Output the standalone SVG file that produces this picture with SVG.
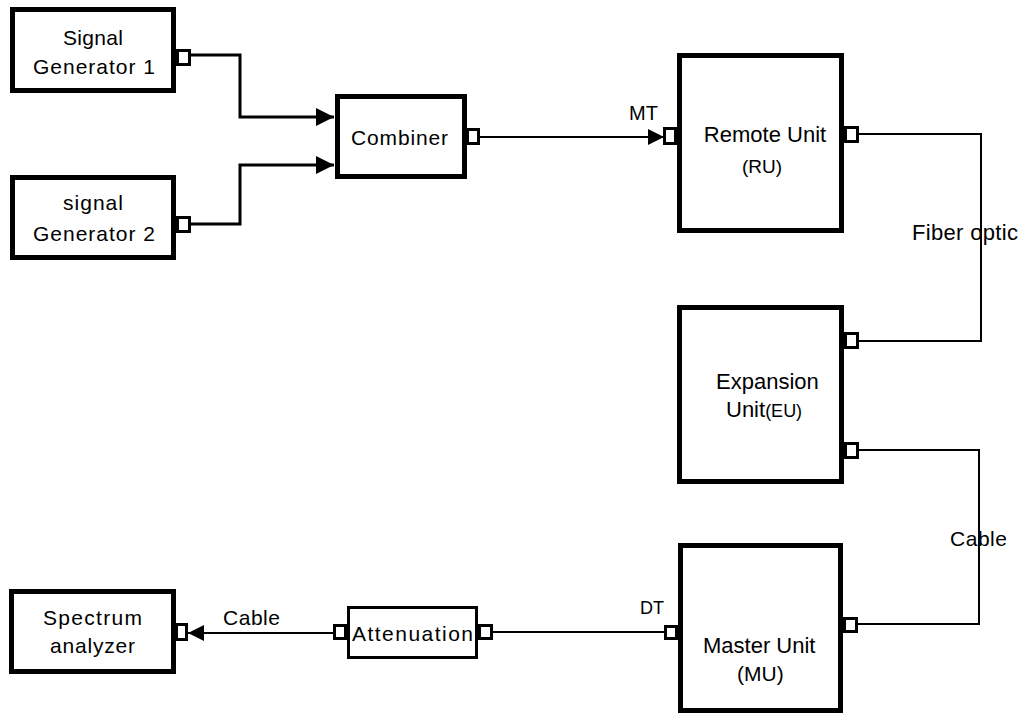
<svg xmlns="http://www.w3.org/2000/svg" width="1027" height="713" viewBox="0 0 1027 713">
<style>
.box{fill:#fff;stroke:#000;stroke-width:5}
.port{fill:#fff;stroke:#000;stroke-width:3}
.c3{fill:none;stroke:#000;stroke-width:3}
.c2{fill:none;stroke:#000;stroke-width:2}
text{font-family:"Liberation Sans",Arial,sans-serif;fill:#000}
.t{font-size:21px}
.a{font-size:22px}
</style>
<defs>
<marker id="ah" markerUnits="userSpaceOnUse" viewBox="0 0 18 18" refX="18" refY="9" markerWidth="18" markerHeight="18" orient="auto">
<path d="M0,0 L18,9 L0,18 z" fill="#000"/>
</marker>
<marker id="ahs" markerUnits="userSpaceOnUse" viewBox="0 0 16 16" refX="16" refY="8" markerWidth="16" markerHeight="16" orient="auto">
<path d="M0,0 L16,8 L0,16 z" fill="#000"/>
</marker>
</defs>
<rect width="1027" height="713" fill="#fff"/>
<g id="connectors">
<path class="c3" d="M191,55 H240 V117 H334" marker-end="url(#ah)"/>
<path class="c3" d="M191,224 H240 V165 H334" marker-end="url(#ah)"/>
<path class="c2" d="M480,137 H664" marker-end="url(#ahs)"/>
<path class="c2" d="M859,134 H981 V341 H859"/>
<path class="c2" d="M859,450 H979 V624 H858"/>
<path class="c2" d="M665,632 H493"/>
<path class="c2" d="M333,633 H188" marker-end="url(#ahs)"/>
</g>
<g id="sg1">
<rect class="box" x="12.5" y="9.5" width="161" height="81"/>
<rect class="port" x="177.5" y="50.5" width="12" height="14"/>
<text class="t" x="63" y="45" textLength="60" lengthAdjust="spacing">Signal</text>
<text class="t" x="33" y="74" textLength="122" lengthAdjust="spacing">Generator 1</text>
</g>
<g id="sg2">
<rect class="box" x="12.5" y="177.5" width="161" height="80"/>
<rect class="port" x="177.5" y="217.5" width="12" height="14"/>
<text class="t" x="63" y="210" textLength="60" lengthAdjust="spacing">signal</text>
<text class="t" x="33" y="241" textLength="122" lengthAdjust="spacing">Generator 2</text>
</g>
<g id="combiner">
<rect class="box" x="337.5" y="96.5" width="127" height="80"/>
<rect class="port" x="467.5" y="129.5" width="11" height="14"/>
<text class="t" x="351" y="145" textLength="97" lengthAdjust="spacing">Combiner</text>
</g>
<text x="629" y="120" font-size="20">MT</text>
<g id="ru">
<rect class="box" x="679.5" y="55.5" width="162" height="175"/>
<rect class="port" x="664.5" y="128.5" width="11" height="15"/>
<rect class="port" x="845.5" y="127.5" width="12" height="14"/>
<text class="a" x="765" y="142" text-anchor="middle">Remote Unit</text>
<text x="762" y="173" font-size="19" text-anchor="middle">(RU)</text>
</g>
<text x="912" y="240" font-size="22" textLength="106" lengthAdjust="spacing">Fiber optic</text>
<g id="eu">
<rect class="box" x="679.5" y="307.5" width="162" height="174"/>
<rect class="port" x="845.5" y="333.5" width="12" height="14"/>
<rect class="port" x="845.5" y="443.5" width="12" height="14"/>
<text class="a" x="716" y="389">Expansion</text>
<text class="a" x="726" y="417">Unit<tspan font-size="18">(EU)</tspan></text>
</g>
<text class="t" x="950" y="546" textLength="57" lengthAdjust="spacing">Cable</text>
<g id="mu">
<rect class="box" x="680.5" y="545.5" width="160" height="165"/>
<rect class="port" x="844.5" y="618.5" width="12" height="13"/>
<rect class="port" x="665.5" y="626.5" width="11" height="12"/>
<text class="a" x="703" y="653">Master Unit</text>
<text x="737" y="681" font-size="21">(MU)</text>
</g>
<text x="640" y="614" font-size="18">DT</text>
<g id="spectrum">
<rect class="box" x="11.5" y="591.5" width="162" height="80"/>
<rect class="port" x="176.5" y="624.5" width="10" height="15"/>
<text class="t" x="43" y="625" textLength="99" lengthAdjust="spacing">Spectrum</text>
<text class="t" x="50" y="653" textLength="85" lengthAdjust="spacing">analyzer</text>
</g>
<text class="t" x="223" y="625" textLength="57" lengthAdjust="spacing">Cable</text>
<g id="attenuation">
<rect x="348.5" y="607.5" width="128" height="50" fill="#fff" stroke="#000" stroke-width="3"/>
<rect class="port" x="334.5" y="625.5" width="11" height="13"/>
<rect class="port" x="479.5" y="625.5" width="12" height="13"/>
<text class="t" x="352" y="641" textLength="121" lengthAdjust="spacing">Attenuation</text>
</g>
</svg>
